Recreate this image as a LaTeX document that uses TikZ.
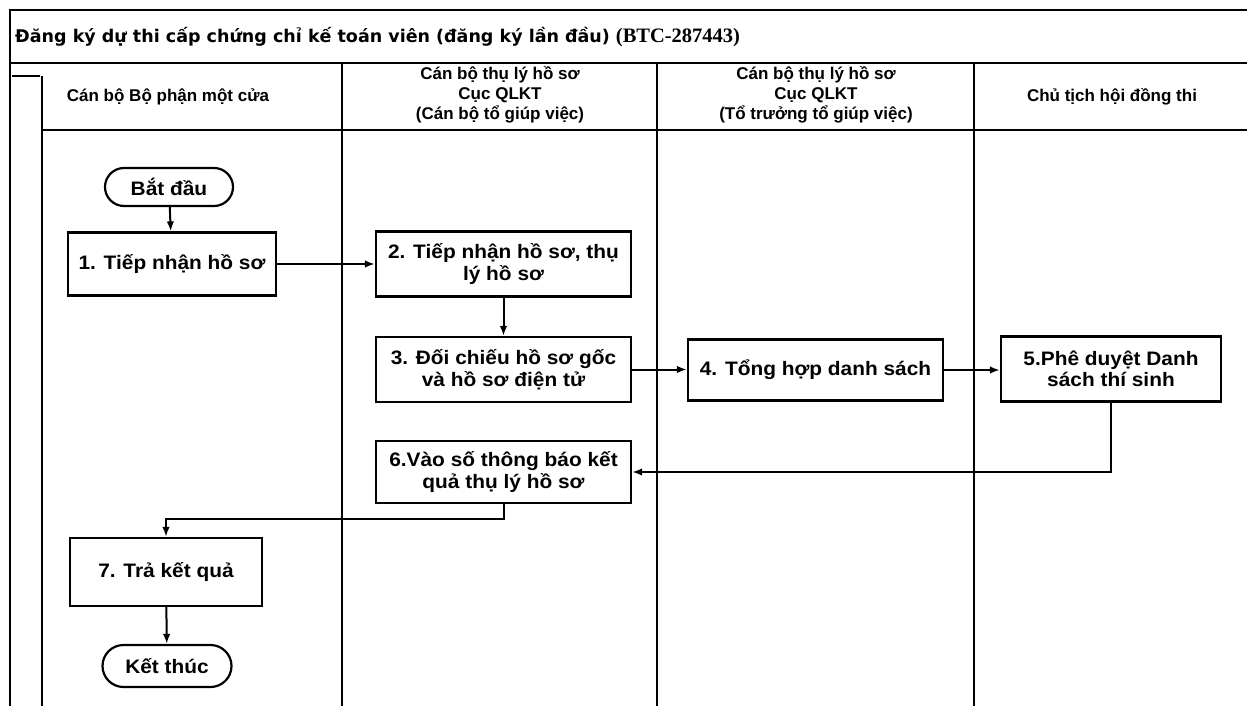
\documentclass[tikz,border=0pt]{standalone}
\usepackage{fontspec}
\setmainfont{Liberation Sans}
\newfontfamily\boxfont[FakeStretch=1.07]{Liberation Sans}
\newfontfamily\titlefont{DejaVu Sans}
\newfontfamily\serifb{Liberation Serif}
\usetikzlibrary{arrows.meta,shapes.misc}
\begin{document}
\begin{tikzpicture}[x=1pt,y=-1pt,
  lane/.style={line width=2.2pt},
  box/.style={draw, line width=2.2pt, align=center, inner sep=0pt,
    font=\boxfont\bfseries\fontsize{19.5}{21.5}\selectfont},
  term/.style={box, rounded rectangle},
  hdr/.style={align=center, font=\bfseries\fontsize{17}{20}\selectfont},
  arr/.style={-{Latex[length=10pt,width=7.5pt]}, line width=2pt}]
\useasboundingbox (0,0) rectangle (1247,706);
% frame and lanes
\draw[lane] (10,706) -- (10,10) -- (1247,10);
\draw[lane] (10,63) -- (1247,63);
\draw[lane] (12,76) -- (40,76);
\draw[lane] (42,76) -- (42,706);
\draw[lane] (42,130) -- (1247,130);
\draw[lane] (342,63) -- (342,706);
\draw[lane] (657,63) -- (657,706);
\draw[lane] (974,63) -- (974,706);
% title
\node[anchor=west, inner sep=0pt] (title) at (15,37)
  {\titlefont\bfseries\fontsize{17.5}{19}\selectfont Đăng ký dự thi cấp chứng chỉ kế toán viên (đăng ký lần đầu) {\serifb\fontsize{20.5}{21}\selectfont(BTC-287443)}};
% headers
\node[hdr] (h1) at (168,97) {Cán bộ Bộ phận một cửa};
\node[hdr] (h2) at (500,95) {Cán bộ thụ lý hồ sơ\\Cục QLKT\\(Cán bộ tổ giúp việc)};
\node[hdr] (h3) at (816,95) {Cán bộ thụ lý hồ sơ\\Cục QLKT\\(Tổ trưởng tổ giúp việc)};
\node[hdr] (h4) at (1112,97) {Chủ tịch hội đồng thi};
% nodes
\node[term, minimum width=128, minimum height=38] (start) at (169,187) {Bắt đầu};
\node[box, minimum width=208, minimum height=63] (b1) at (172,264) {1. Tiếp nhận hồ sơ};
\node[box, minimum width=255, minimum height=65] (b2) at (503.5,264) {2. Tiếp nhận hồ sơ, thụ\\lý hồ sơ};
\node[box, minimum width=255, minimum height=65] (b3) at (503.5,369.5) {3. Đối chiếu hồ sơ gốc\\và hồ sơ điện tử};
\node[box, minimum width=255, minimum height=61] (b4) at (815.5,370) {4. Tổng hợp danh sách};
\node[box, minimum width=220, minimum height=65] (b5) at (1111,369) {5.Phê duyệt Danh\\sách thí sinh};
\node[box, minimum width=255, minimum height=62] (b6) at (503.5,472) {6.Vào số thông báo kết\\quả thụ lý hồ sơ};
\node[box, minimum width=192, minimum height=68] (b7) at (166,572) {7. Trả kết quả};
\node[term, minimum width=129, minimum height=42] (end) at (167,666) {Kết thúc};
% connectors
\draw[arr] (start) -- (b1);
\draw[arr] (b1.east) -- (b2.west |- b1.east);
\draw[arr] (b2) -- (b3);
\draw[arr] (b3.east) -- (b4.west |- b3.east);
\draw[arr] (b4.east) -- (b5.west |- b4.east);
\draw[arr] (b5.south) |- (b6.east);
\draw[arr] (b6.south) -- ++(0,15) -| (b7.north);
\draw[arr] (b7) -- (end);
\end{tikzpicture}
\end{document}
